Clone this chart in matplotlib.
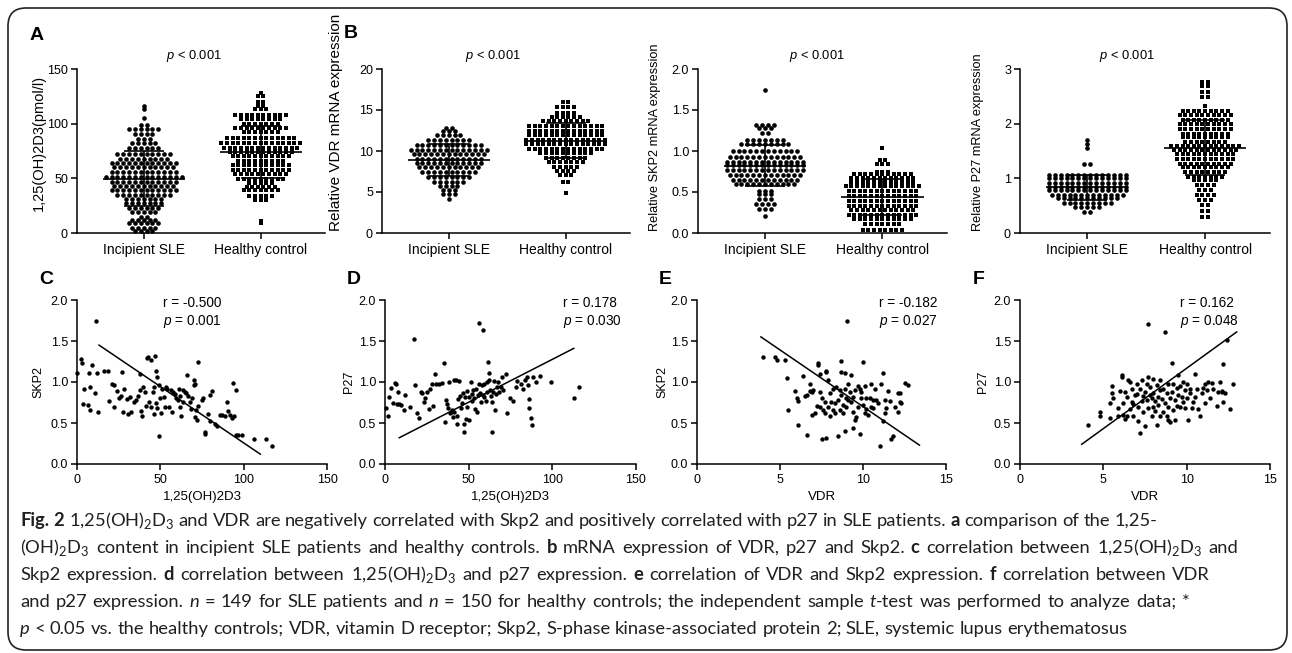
import re
import numpy as np
import matplotlib
matplotlib.use("Agg")
import matplotlib.pyplot as plt
from matplotlib.patches import FancyBboxPatch
from matplotlib.transforms import IdentityTransform

# =========================
# DATA
# =========================
groups = ["Incipient SLE", "Healthy control"]

# dot plots: value of each row of dots, number of dots in that row
vitd_sle_lv = [116, 113, 105, 99, 95, 91, 86, 82, 78, 72, 68, 64, 60, 56, 51, 47, 43, 39, 35, 31,
               27, 23, 19, 15, 12, 9, 5, 2]
vitd_sle_n = [1, 1, 1, 2, 6, 4, 3, 5, 6, 10, 9, 12, 11, 12, 14, 12, 11, 12, 10, 7,
              7, 6, 5, 2, 5, 6, 5, 4]
vitd_hc_lv = [128, 125, 120, 116, 113, 108, 104, 100, 96, 92, 87, 82, 78, 74, 70, 66, 62, 58, 54, 49,
              46, 42, 39, 34, 30, 11, 9]
vitd_hc_n = [1, 2, 2, 2, 3, 10, 8, 7, 10, 7, 13, 15, 14, 12, 11, 9, 11, 11, 10, 9,
             5, 6, 7, 5, 3, 1, 1]

vdr_sle_lv = [12.8, 12.4, 12.0, 11.3, 10.7, 10.1, 9.6, 9.0, 8.5, 8.0, 7.4, 6.8, 6.2, 5.7, 5.3, 4.8, 4.1]
vdr_sle_n = [2, 3, 5, 8, 12, 14, 13, 12, 12, 11, 10, 8, 6, 4, 3, 3, 1]
vdr_hc_lv = [16.0, 15.4, 14.6, 14.1, 13.7, 13.1, 12.5, 11.9, 11.4, 10.8, 10.2, 9.7, 9.1, 8.7, 8.1, 7.6,
             7.1, 6.2, 4.9]
vdr_hc_n = [2, 4, 4, 6, 9, 14, 14, 14, 15, 15, 14, 10, 8, 7, 5, 4, 3, 2, 1]

skp2_sle_lv = [1.75, 1.32, 1.28, 1.22, 1.14, 1.08, 1.00, 0.93, 0.87, 0.83, 0.77, 0.71, 0.65, 0.60, 0.51,
               0.47, 0.41, 0.35, 0.29, 0.21]
skp2_sle_n = [1, 4, 3, 2, 7, 9, 12, 13, 14, 14, 14, 13, 12, 11, 3, 3, 3, 4, 3, 1]
skp2_hc_lv = [1.04, 0.89, 0.84, 0.75, 0.72, 0.67, 0.62, 0.57, 0.51, 0.45, 0.39, 0.33, 0.28, 0.22, 0.17,
              0.11, 0.04]
skp2_hc_n = [1, 2, 3, 3, 11, 12, 12, 14, 13, 13, 13, 13, 12, 13, 11, 7, 8]

p27_sle_lv = [1.71, 1.62, 1.55, 1.26, 1.06, 1.00, 0.92, 0.85, 0.78, 0.70, 0.64, 0.55, 0.47, 0.39]
p27_sle_n = [1, 1, 1, 2, 14, 14, 14, 14, 14, 13, 11, 9, 5, 2]
p27_hc_lv = [2.76, 2.68, 2.58, 2.48, 2.33, 2.24, 2.15, 2.07, 1.99, 1.91, 1.82, 1.75, 1.67, 1.59, 1.52,
             1.44, 1.36, 1.27, 1.20, 1.12, 1.03, 0.97, 0.88, 0.79, 0.70, 0.61, 0.52, 0.41, 0.30]
p27_hc_n = [2, 2, 2, 2, 1, 9, 10, 9, 10, 10, 9, 9, 8, 13, 12,
            11, 11, 10, 9, 8, 7, 5, 4, 3, 4, 3, 2, 2, 2]

# correlations: C = 1,25(OH)2D3 vs SKP2
c_x = [0.2, 2.2, 2.9, 4.0, 3.6, 6.7, 7.4, 8.0, 8.0, 8.9,
       10.7, 11.2, 12.0, 12.3, 16.3, 18.5, 19.2, 20.8, 21.9, 22.3,
       24.0, 25.0, 26.8, 26.3, 27.5, 28.0, 29.7, 30.4, 31.9, 32.6,
       34.2, 35.3, 36.4, 37.5, 37.9, 38.2, 38.8, 39.7, 40.8, 41.5,
       42.0, 42.6, 44.2, 44.6, 43.0, 45.3, 46.4, 46.0, 47.0, 47.5,
       47.8, 47.5, 48.2, 49.0, 49.1, 50.0, 50.9, 50.4, 52.0, 52.7,
       53.6, 54.2, 55.4, 56.5, 57.1, 57.6, 58.7, 59.4, 60.3, 60.9,
       61.6, 62.0, 62.5, 63.4, 63.8, 64.7, 65.4, 66.0, 66.5, 67.6,
       68.3, 69.2, 69.9, 70.0, 70.5, 71.0, 71.4, 71.9, 72.3, 72.8,
       75.0, 75.4, 76.6, 76.8, 78.8, 79.5, 79.9, 81.0, 82.6, 83.9,
       85.5, 87.0, 88.8, 90.0, 90.6, 91.5, 92.9, 93.8, 94.4, 95.1,
       95.5, 96.7, 98.9, 106.3, 113.4, 116.7]
c_y = [1.11, 1.28, 1.23, 0.92, 0.73, 0.72, 1.11, 0.94, 0.66, 1.21,
       0.86, 1.75, 1.11, 0.64, 1.13, 1.13, 0.77, 0.98, 0.96, 0.70,
       0.89, 0.80, 1.12, 0.83, 0.64, 0.92, 0.79, 0.61, 0.82, 0.64,
       0.76, 0.78, 0.83, 0.90, 1.10, 0.65, 0.58, 0.94, 0.88, 0.71,
       1.29, 1.31, 1.27, 0.70, 0.76, 0.88, 0.94, 0.61, 1.32, 1.14,
       1.06, 0.75, 0.68, 0.34, 0.96, 0.80, 0.92, 0.62, 0.82, 0.69,
       0.94, 0.91, 0.69, 0.90, 0.64, 0.88, 0.85, 0.80, 0.78, 0.92,
       0.83, 0.69, 0.59, 0.90, 0.76, 0.88, 0.87, 1.09, 0.83, 0.76,
       0.67, 0.80, 1.03, 0.96, 0.98, 0.57, 0.66, 0.54, 1.25, 0.71,
       0.78, 0.80, 0.39, 0.36, 0.61, 0.84, 0.53, 0.89, 0.49, 0.46,
       0.60, 0.60, 0.59, 0.76, 0.65, 0.60, 0.56, 0.99, 0.59, 0.90,
       0.35, 0.35, 0.35, 0.31, 0.31, 0.22]

# D = 1,25(OH)2D3 vs P27
d_x = [0.7, 1.8, 2.2, 3.6, 4.7, 5.8, 6.7, 7.4, 7.8, 8.5,
       9.6, 11.4, 11.9, 15.2, 17.5, 18.2, 19.0, 20.4, 21.3, 22.0,
       23.1, 24.2, 25.3, 26.0, 27.1, 28.3, 28.7, 29.8, 30.5, 32.0,
       33.9, 35.4, 36.1, 36.5, 37.0, 37.7, 38.3, 38.8, 39.2, 39.9,
       40.6, 41.0, 41.5, 42.2, 42.8, 43.3, 43.7, 44.4, 45.1, 45.5,
       46.0, 46.6, 47.1, 47.1, 47.8, 48.2, 48.9, 49.3, 50.0, 50.4,
       51.1, 51.8, 52.2, 52.7, 53.4, 54.0, 54.5, 55.0, 55.6, 56.3,
       56.7, 57.2, 57.8, 58.5, 59.0, 59.4, 60.1, 60.8, 61.2, 61.7,
       61.9, 62.3, 62.8, 63.5, 63.9, 64.1, 64.6, 65.2, 65.7, 66.1,
       66.8, 67.5, 67.9, 69.1, 69.7, 70.6, 72.4, 73.1, 74.7, 76.5,
       78.1, 79.1, 81.4, 82.5, 83.6, 84.8, 85.4, 85.9, 86.3, 87.0,
       87.7, 88.6, 90.4, 92.6, 99.3, 112.8, 116.1, 56.2, 58.6]
d_y = [0.68, 0.58, 0.82, 0.93, 0.75, 0.99, 0.97, 0.73, 0.88, 0.73,
       0.72, 0.66, 0.84, 0.69, 1.53, 0.96, 0.62, 0.56, 0.88, 0.86,
       0.76, 0.80, 0.88, 0.67, 0.92, 0.98, 0.71, 1.10, 0.98, 0.98,
       0.99, 1.23, 0.51, 0.78, 0.73, 0.68, 1.00, 0.62, 0.64, 0.66,
       0.57, 1.02, 0.63, 1.02, 0.49, 0.59, 0.79, 1.01, 0.83, 0.68,
       0.75, 0.86, 0.49, 0.39, 0.82, 0.55, 0.89, 0.70, 0.54, 0.82,
       1.00, 0.85, 0.77, 0.90, 0.80, 0.67, 0.92, 0.63, 0.84, 0.98,
       0.86, 0.76, 0.96, 0.84, 0.82, 0.97, 0.77, 0.88, 1.00, 1.25,
       1.11, 1.03, 0.90, 0.83, 0.76, 0.39, 0.88, 1.01, 0.66, 0.85,
       0.94, 1.00, 0.88, 0.94, 1.06, 0.90, 1.10, 0.62, 0.80, 0.77,
       0.94, 1.01, 0.98, 0.92, 1.02, 1.06, 0.96, 0.79, 0.68, 0.56,
       0.48, 1.06, 1.00, 1.07, 1.00, 0.80, 0.94, 1.72, 1.63]

# E = VDR vs SKP2
e_x = [4.0, 4.7, 4.8, 5.3, 5.4, 5.5, 5.9, 6.0, 6.1, 6.1,
       6.4, 6.5, 6.6, 6.6, 6.8, 6.8, 6.9, 6.9, 7.0, 7.1,
       7.2, 7.3, 7.3, 7.4, 7.4, 7.4, 7.5, 7.5, 7.6, 7.7,
       7.7, 7.8, 7.8, 7.8, 7.9, 7.9, 8.0, 8.0, 8.1, 8.2,
       8.2, 8.3, 8.3, 8.4, 8.5, 8.5, 8.6, 8.6, 8.7, 8.7,
       8.7, 8.8, 8.8, 8.9, 8.9, 8.9, 9.0, 9.0, 9.1, 9.1,
       9.2, 9.3, 9.3, 9.4, 9.4, 9.4, 9.5, 9.5, 9.6, 9.7,
       9.7, 9.8, 9.8, 9.9, 9.9, 10.0, 10.0, 10.1, 10.1, 10.2,
       10.2, 10.3, 10.4, 10.5, 10.5, 10.6, 10.6, 10.7, 10.8, 10.9,
       11.0, 11.1, 11.2, 11.2, 11.3, 11.3, 11.4, 11.5, 11.6, 11.7,
       11.8, 11.9, 12.1, 12.1, 12.2, 12.2, 12.3, 12.5, 12.7, 9.05]
e_y = [1.31, 1.30, 1.27, 1.27, 1.05, 0.66, 0.89, 0.80, 0.77, 0.48,
       1.07, 0.83, 0.35, 0.84, 0.89, 0.98, 0.60, 0.88, 0.90, 0.62,
       0.71, 1.23, 1.21, 1.10, 0.88, 0.69, 0.80, 0.31, 0.66, 0.76,
       0.62, 1.13, 1.12, 0.32, 0.69, 1.02, 0.59, 0.86, 0.76, 0.66,
       0.92, 0.74, 0.62, 0.94, 0.78, 0.34, 0.66, 0.90, 1.12, 1.26,
       0.84, 0.72, 0.62, 0.40, 1.11, 0.92, 0.80, 0.69, 0.98, 0.78,
       0.88, 1.09, 0.76, 0.44, 0.82, 0.64, 0.54, 0.90, 0.57, 0.95,
       0.70, 0.92, 0.37, 0.88, 0.80, 0.72, 1.24, 0.95, 0.62, 0.80,
       0.67, 0.60, 0.80, 0.69, 0.97, 0.78, 0.68, 0.91, 0.78, 0.75,
       0.22, 0.98, 0.52, 1.11, 0.62, 0.78, 0.68, 0.89, 0.77, 0.31,
       0.34, 0.70, 0.86, 0.64, 0.76, 0.87, 0.75, 0.99, 0.96, 1.74]

# F = VDR vs P27
f_x = [4.1, 4.8, 4.8, 5.4, 5.4, 5.5, 5.5, 5.6, 5.9, 5.9,
       6.0, 6.1, 6.1, 6.2, 6.2, 6.3, 6.3, 6.4, 6.4, 6.5,
       6.6, 6.6, 6.7, 6.7, 6.8, 6.8, 6.9, 7.0, 7.0, 7.1,
       7.1, 7.2, 7.2, 7.3, 7.3, 7.4, 7.4, 7.5, 7.5, 7.6,
       7.6, 7.7, 7.7, 7.8, 7.8, 7.9, 7.9, 8.0, 8.0, 8.0,
       8.1, 8.1, 8.2, 8.2, 8.3, 8.3, 8.4, 8.4, 8.4, 8.5,
       8.6, 8.6, 8.7, 8.7, 8.8, 8.8, 8.9, 8.9, 8.9, 9.0,
       9.0, 9.1, 9.1, 9.2, 9.2, 9.3, 9.3, 9.4, 9.4, 9.5,
       9.5, 9.6, 9.6, 9.7, 9.8, 9.8, 9.9, 9.9, 10.0, 10.0,
       10.1, 10.2, 10.2, 10.3, 10.4, 10.5, 10.5, 10.6, 10.7, 10.8,
       10.9, 11.0, 11.1, 11.1, 11.2, 11.3, 11.4, 11.5, 11.6, 11.8,
       11.9, 12.0, 12.1, 12.1, 12.2, 12.2, 12.3, 12.4, 12.6, 12.8,
       7.7]
f_y = [0.47, 0.64, 0.58, 0.56, 0.74, 0.87, 0.95, 0.80, 0.59, 0.68,
       0.89, 1.06, 1.09, 0.60, 0.75, 0.55, 0.88, 0.59, 0.82, 1.03,
       0.67, 1.00, 0.76, 0.91, 0.73, 0.59, 0.84, 0.97, 0.85, 0.69,
       0.52, 0.38, 0.91, 0.77, 1.02, 0.83, 0.64, 0.88, 0.46, 0.98,
       0.78, 0.68, 1.06, 0.84, 0.94, 0.59, 0.80, 1.04, 0.69, 0.87,
       0.77, 0.65, 0.96, 0.48, 0.82, 0.72, 0.90, 0.59, 1.02, 0.79,
       0.64, 0.92, 1.61, 0.75, 0.58, 0.86, 0.54, 0.97, 0.70, 0.51,
       0.80, 1.23, 0.88, 0.66, 0.98, 0.78, 0.54, 0.93, 0.71, 0.84,
       1.08, 0.70, 0.95, 0.82, 0.76, 1.00, 0.90, 0.68, 0.98, 0.80,
       0.54, 0.86, 0.91, 0.68, 0.76, 1.10, 0.82, 0.92, 0.67, 0.59,
       0.86, 0.93, 0.75, 0.98, 0.90, 1.00, 0.80, 0.99, 0.91, 0.71,
       0.88, 1.00, 0.89, 0.88, 1.22, 0.76, 0.87, 1.51, 0.67, 0.98,
       1.71]

# regression lines as drawn (end points)
fit_c_x, fit_c_y = [13.2, 110.0], [1.45, 0.12]
fit_d_x, fit_d_y = [8.5, 112.8], [0.32, 1.41]
fit_e_x, fit_e_y = [3.85, 13.4], [1.55, 0.23]
fit_f_x, fit_f_y = [3.7, 13.0], [0.24, 1.61]

stats_c = ["r = -0.500", "0.001"]
stats_d = ["r = 0.178", "0.030"]
stats_e = ["r = -0.182", "0.027"]
stats_f = ["r = 0.162", "0.048"]

# ticks
vitd_ticks = [0, 50, 100, 150]
vdr_ticks = [0, 5, 10, 15, 20]
skp2_ticks = [0.0, 0.5, 1.0, 1.5, 2.0]
p27_ticks = [0, 1, 2, 3]
corr_y_ticks = [0.0, 0.5, 1.0, 1.5, 2.0]
vitd_x_ticks = [0, 50, 100, 150]
vdr_x_ticks = [0, 5, 10, 15]

# caption (<b>..</b> bold, <i>..</i> italic)
caption_lines = [
    "<b>Fig.</b> <b>2</b> 1,25(OH)$_2$D$_3$ and VDR are negatively correlated with Skp2 and positively correlated with p27 in SLE patients. <b>a</b> comparison of the 1,25-",
    "(OH)$_2$D$_3$ content in incipient SLE patients and healthy controls. <b>b</b> mRNA expression of VDR, p27 and Skp2. <b>c</b> correlation between 1,25(OH)$_2$D$_3$ and",
    "Skp2 expression. <b>d</b> correlation between 1,25(OH)$_2$D$_3$ and p27 expression. <b>e</b> correlation of VDR and Skp2 expression. <b>f</b> correlation between VDR",
    "and p27 expression. <i>n</i> = 149 for SLE patients and <i>n</i> = 150 for healthy controls; the independent sample <i>t</i>-test was performed to analyze data; *",
    "<i>p</i> < 0.05 vs. the healthy controls; VDR, vitamin D receptor; Skp2, S-phase kinase-associated protein 2; SLE, systemic lupus erythematosus",
]
caption_ends = [1150, 1268, 1236, 1210, None]

# =========================
# FIGURE
# =========================
W, H = 1292, 653
plt.rcParams['font.family'] = ['Liberation Sans', 'DejaVu Sans']
plt.rcParams['mathtext.fontset'] = 'custom'
plt.rcParams['mathtext.rm'] = 'Lato'
plt.rcParams['mathtext.it'] = 'Liberation Sans:italic'
plt.rcParams['mathtext.bf'] = 'Lato:bold'

fig = plt.figure(figsize=(W / 100, H / 100), dpi=100)
fig.patch.set_facecolor('white')


def px_axes(x0, x1, y0, y1):
    return fig.add_axes([x0 / W, 1 - y1 / H, (x1 - x0) / W, (y1 - y0) / H])


def ftext(x, y, s, **kw):
    return fig.text(x / W, 1 - y / H, s, **kw)


def style_axes(ax):
    ax.set_facecolor('none')
    for side in ("top", "right"):
        ax.spines[side].set_visible(False)
    for side in ("left", "bottom"):
        ax.spines[side].set_linewidth(1.1)
    ax.tick_params(direction="out", length=4, width=1.1, labelsize=9, pad=2.5)


def swarm(ax, pos, levels, counts, marker, size, step):
    xs, ys = [], []
    for lv, n in zip(levels, counts):
        off = (np.arange(n) - (n - 1) / 2) * step
        xs.extend(pos + off)
        ys.extend([lv] * n)
    ax.scatter(xs, ys, marker=marker, s=size, c='black', linewidths=0, clip_on=False, zorder=3)
    vals = np.repeat(levels, counts)
    m, sd = vals.mean(), vals.std(ddof=1)
    kw = dict(color='black', lw=1.2, zorder=4, solid_capstyle='butt')
    ax.plot([pos - 0.35, pos + 0.35], [m, m], **kw)
    ax.plot([pos, pos], [m - sd, m + sd], **kw)
    ax.plot([pos - 0.17, pos + 0.17], [m + sd, m + sd], **kw)
    ax.plot([pos - 0.17, pos + 0.17], [m - sd, m - sd], **kw)


def dot_panel(x0, x1, sle_lv, sle_n, hc_lv, hc_n, yticks, fmt):
    ax = px_axes(x0, x1, 69, 233)
    style_axes(ax)
    swarm(ax, 0, sle_lv, sle_n, 'o', 11, 0.05)
    swarm(ax, 1, hc_lv, hc_n, 's', 9, 0.048)
    ax.set_xlim(-0.57, 1.55)
    ax.set_ylim(yticks[0], yticks[-1])
    ax.set_xticks([0, 1])
    ax.set_xticklabels(groups, fontsize=10)
    ax.tick_params(axis='x', pad=3)
    ax.set_yticks(yticks)
    ax.set_yticklabels([fmt.format(t) for t in yticks])
    return ax


def corr_panel(x0, x1, xs, ys, fx, fy, xticks, stats, tx, xlabel, ylabel, ylab_x):
    ax = px_axes(x0, x1, 300, 464)
    style_axes(ax)
    ax.scatter(xs, ys, s=10, c='black', linewidths=0, clip_on=False, zorder=3)
    ax.plot(fx, fy, color='black', lw=1.1, zorder=4)
    ax.set_xlim(xticks[0], xticks[-1])
    ax.set_ylim(0, 2)
    ax.set_xticks(xticks)
    ax.set_yticks(corr_y_ticks)
    ax.set_yticklabels(["{:.1f}".format(t) for t in corr_y_ticks])
    ax.tick_params(axis='x', pad=3)
    ftext((x0 + x1) / 2, 497, xlabel, ha='center', va='center', fontsize=9.5)
    ftext(ylab_x, 382, ylabel, ha='center', va='center', rotation=90, fontsize=9)
    ftext(tx, 303, stats[0], ha='left', va='center', fontsize=9.8)
    ftext(tx, 321, r"$\mathit{p}$ = " + stats[1], ha='left', va='center', fontsize=9.8)
    return ax


# ---- top row: dot plots
dot_panel(77, 325, vitd_sle_lv, vitd_sle_n, vitd_hc_lv, vitd_hc_n, vitd_ticks, "{:d}")
dot_panel(382, 630, vdr_sle_lv, vdr_sle_n, vdr_hc_lv, vdr_hc_n, vdr_ticks, "{:d}")
dot_panel(698, 947, skp2_sle_lv, skp2_sle_n, skp2_hc_lv, skp2_hc_n, skp2_ticks, "{:.1f}")
dot_panel(1020, 1270, p27_sle_lv, p27_sle_n, p27_hc_lv, p27_hc_n, p27_ticks, "{:d}")

ftext(39, 143, "1,25(OH)2D3(pmol/l)", rotation=90, ha='center', va='center', fontsize=10.5)
ftext(336, 231, "Relative VDR mRNA expression", rotation=90, ha='center', va='bottom', fontsize=11)
ftext(655, 231, "Relative SKP2 mRNA expression", rotation=90, ha='center', va='bottom', fontsize=9.2)
ftext(978, 231, "Relative P27 mRNA expression", rotation=90, ha='center', va='bottom', fontsize=9.2)

for px in [194, 493, 817, 1127]:
    ftext(px, 56, r"$\mathit{p}$ < 0.001", ha='center', va='center', fontsize=9.3)

# ---- bottom row: correlations
corr_panel(77, 327, c_x, c_y, fit_c_x, fit_c_y, vitd_x_ticks, stats_c, 163, "1,25(OH)2D3", "SKP2", 38)
corr_panel(385, 636, d_x, d_y, fit_d_x, fit_d_y, vitd_x_ticks, stats_d, 563, "1,25(OH)2D3", "P27", 349)
corr_panel(697, 946, e_x, e_y, fit_e_x, fit_e_y, vdr_x_ticks, stats_e, 879, "VDR", "SKP2", 662)
corr_panel(1020, 1270, f_x, f_y, fit_f_x, fit_f_y, vdr_x_ticks, stats_f, 1180, "VDR", "P27", 983)

# panel letters
for letter, (lx, ly) in zip("ABCDEF", [(37, 35), (351, 34), (46, 280), (354, 280), (665, 280), (979, 280)]):
    ftext(lx, ly, letter, ha='center', va='center', fontsize=14, fontweight='bold')

# =========================
# CAPTION
# =========================
CAP_FS = 13.2


def cap_text(x, y, s, st):
    kw = dict(family='Lato', fontsize=CAP_FS, ha='left', va='baseline', color='#231f20')
    if st == 'b':
        kw['fontweight'] = 'bold'
    if st == 'i':
        kw['style'] = 'italic'
    return ftext(x, y, s, **kw)


def pieces(tok):
    out = []
    for part in re.split(r'(<b>.*?</b>|<i>.*?</i>)', tok):
        if not part:
            continue
        if part.startswith('<b>'):
            out.append((part[3:-4], 'b'))
        elif part.startswith('<i>'):
            out.append((part[3:-4], 'i'))
        else:
            out.append((part, 'r'))
    return out


fig.canvas.draw()
renderer = fig.canvas.get_renderer()
t1 = cap_text(0, -100, "a a", 'r')
t2 = cap_text(0, -100, "aa", 'r')
space = t1.get_window_extent(renderer).width - t2.get_window_extent(renderer).width
t1.remove()
t2.remove()

for i, line in enumerate(caption_lines):
    y = 526 + 27 * i
    words = []
    for w in line.split(' '):
        arts = []
        for s, st in pieces(w):
            t = cap_text(0, y, s, st)
            arts.append((t, t.get_window_extent(renderer).width))
        words.append(arts)
    widths = [sum(wd for _, wd in arts) for arts in words]
    gap = space
    if caption_ends[i] is not None:
        full = (caption_ends[i] - 20 - sum(widths)) / (len(words) - 1)
        gap = space + 0.5 * (full - space)
    x = 20
    for arts in words:
        for t, wd in arts:
            t.set_x(x / W)
            x += wd
        x += gap

# rounded frame
frame = FancyBboxPatch((8, 3), 1279, 642, boxstyle="round,pad=0,rounding_size=18",
                       transform=IdentityTransform(), fill=False, ec='#222222', lw=1.2)
fig.add_artist(frame)

plt.savefig("out.png", dpi=100)
